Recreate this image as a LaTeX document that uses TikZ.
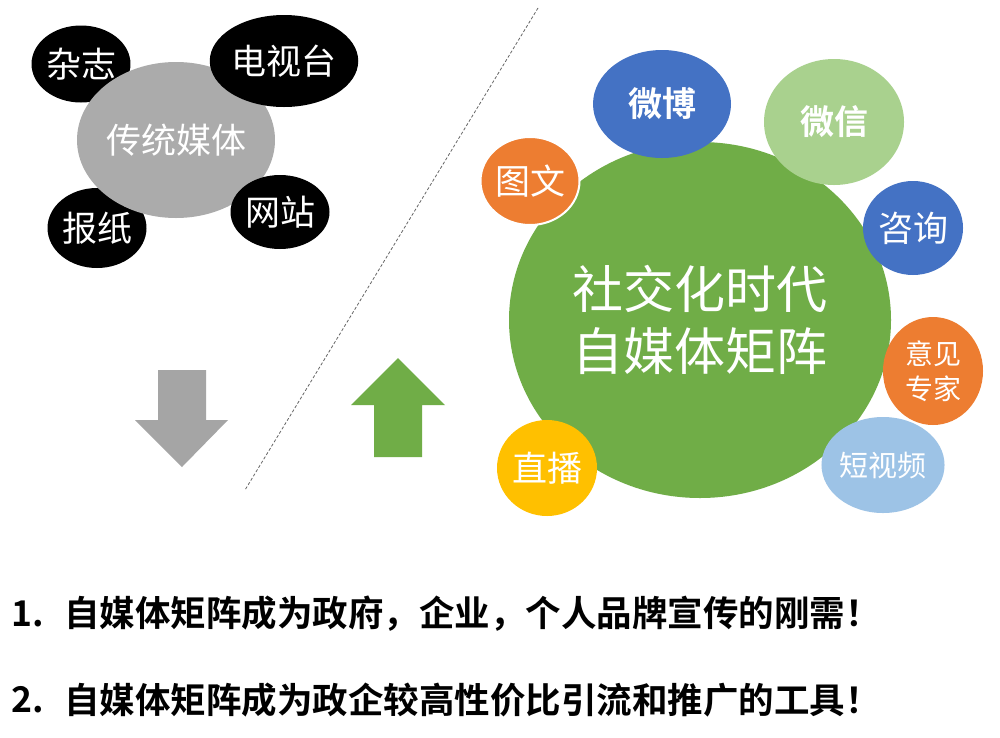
\documentclass[tikz,border=0pt]{standalone}
\usepackage{fontspec}
\setmainfont{Noto Sans CJK SC}[BoldFont={* Bold}]
\usetikzlibrary{shapes.geometric}
\definecolor{oldgray}{HTML}{ABABAB}
\definecolor{arrowgray}{HTML}{A5A5A5}
\definecolor{mgreen}{HTML}{70AD47}
\definecolor{mblue}{HTML}{4472C4}
\definecolor{lgreen}{HTML}{A9D18E}
\definecolor{morange}{HTML}{ED7D31}
\definecolor{lblue}{HTML}{9DC3E6}
\definecolor{myellow}{HTML}{FFC000}

\begin{document}
\begin{tikzpicture}[x=1pt,y=-1pt]
\tikzstyle{every node}=[ellipse, inner sep=0pt, text=white]
\tikzstyle{txt}=[font=\fontsize{35}{35}\selectfont]
\tikzstyle{boldtxt}=[font=\fontsize{34}{34}\selectfont\bfseries]
\tikzstyle{line}=[rectangle, anchor=west, text=black, font=\fontsize{35.5}{35.5}\selectfont\bfseries]
\useasboundingbox (0,0) rectangle (1000,737);
\fill[white] (0,0) rectangle (1000,737);
% traditional media
\draw (81,64) node (zazhi) [fill=black, txt, minimum width=84pt, minimum height=77pt] {杂志};
\draw (97,228) node (baozhi) [fill=black, txt, minimum width=90pt, minimum height=80pt] {报纸};
\draw (176,140) node (chuantong) [fill=oldgray, txt, minimum width=176pt, minimum height=156pt] {传统媒体};
\draw (284,61) node (dianshi) [fill=black, txt, minimum width=114pt, minimum height=92pt] {电视台};
\draw (280,212) node (wangzhan) [fill=black, txt, minimum width=92pt, minimum height=74pt] {网站};
% arrows and divider
\fill[arrowgray] (158,370) -- (206,370) -- (206,420) -- (228,420) -- (182,467) -- (135,420) -- (158,420) -- cycle;
\fill[mgreen] (398,358) -- (445,405) -- (422,405) -- (422,457) -- (374,457) -- (374,405) -- (351,405) -- cycle;
\coordinate (top) at (538,8);
\coordinate (bottom) at (245,490);
\draw[dash pattern=on 3pt off 2pt, black!60, line width=0.8pt] (top) -- (bottom);
% self media
\draw (700,320) node (center) [fill=mgreen, align=center, minimum width=382pt, minimum height=356pt, font=\fontsize{51}{62}\selectfont] {社交化时代\\自媒体矩阵};
\draw (662,104) node (weibo) [fill=mblue, boldtxt, minimum width=138pt, minimum height=108pt] {微博};
\draw (834,122) node (weixin) [fill=lgreen, boldtxt, minimum width=140pt, minimum height=126pt] {微信};
\draw (530,181) node (tuwen) [fill=morange, draw=white, line width=2pt, txt, minimum width=96pt, minimum height=88pt] {图文};
\draw (913,228) node (zixun) [fill=mblue, txt, minimum width=100pt, minimum height=94pt] {咨询};
\draw (933,371) node (zhuanjia) [fill=morange, align=center, font=\fontsize{28}{35}\selectfont, minimum width=100pt, minimum height=108pt] {意见\\专家};
\draw (883,465) node (duanshipin) [fill=lblue, font=\fontsize{29}{29}\selectfont, minimum width=100pt, minimum height=96pt] {短视频};
\draw (547,468) node (zhibo) [fill=myellow, txt, minimum width=100pt, minimum height=96pt] {直播};
% conclusions
\draw (11,614) node (num1) [line] {1.};
\draw (64,614) node (line1) [line] {自媒体矩阵成为政府，企业，个人品牌宣传的刚需！};
\draw (11,700) node (num2) [line] {2.};
\draw (64,700) node (line2) [line] {自媒体矩阵成为政企较高性价比引流和推广的工具！};
\end{tikzpicture}
\end{document}
